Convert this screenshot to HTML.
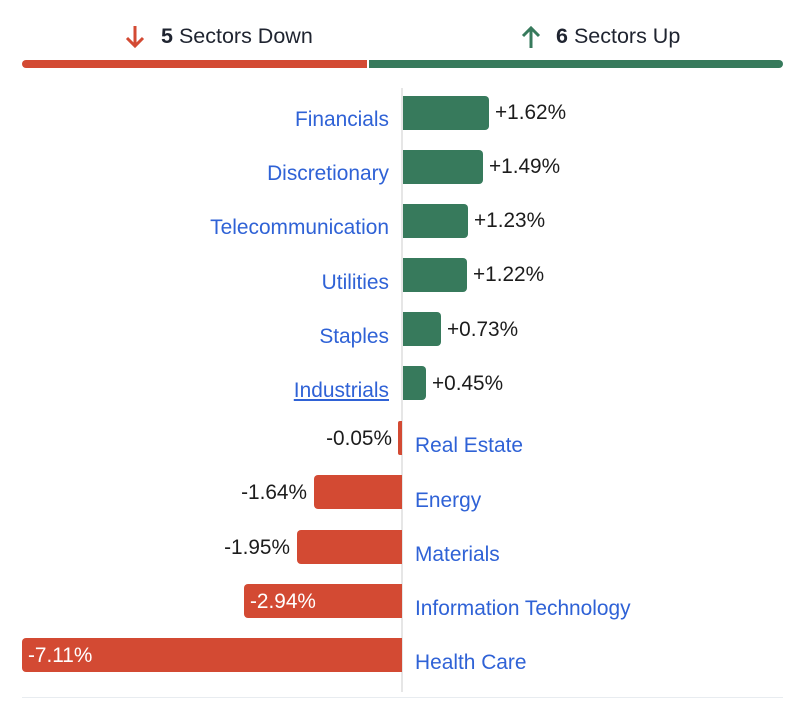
<!DOCTYPE html>
<html><head><style>
body{margin:0;width:800px;height:716px;background:#fff;font-family:"Liberation Sans",sans-serif;position:relative;overflow:hidden}
div{position:absolute}
.h{top:22px;font-size:21.5px;color:#1f2430;height:28px;line-height:28px;white-space:nowrap}
.b{height:34px;border-radius:0 4px 4px 0;background:#377a5c}
.r{height:34px;border-radius:4px 0 0 4px;background:#d34a33}
.l{font-size:20.9px;color:#2f62d6;line-height:22px;white-space:nowrap}
.ll{right:411px;text-align:right}
.rl{left:415px}
.v{font-size:20.8px;color:#1c1c1c;line-height:22px;white-space:nowrap}
</style></head><body>
<svg style="position:absolute;left:123px;top:24px" width="24" height="26"><path d="M12 2V22M4 14L12 22L20 14" stroke="#d34a33" stroke-width="3" fill="none"/></svg>
<div class="h" style="left:161px"><b>5</b> Sectors Down</div>
<svg style="position:absolute;left:519px;top:24px" width="24" height="26"><path d="M12 24V4M4 12L12 4L20 12" stroke="#377a5c" stroke-width="3" fill="none"/></svg>
<div class="h" style="left:556px"><b>6</b> Sectors Up</div>
<div style="left:22px;top:60px;width:345px;height:8px;background:#d34a33;border-radius:4px 0 0 4px"></div>
<div style="left:369px;top:60px;width:414px;height:8px;background:#377a5c;border-radius:0 4px 4px 0"></div>
<div style="left:401px;top:88px;width:2px;height:604px;background:#e6e6e6"></div>
<div style="left:22px;top:697px;width:761px;height:1px;background:#e8ecf0"></div>

<div class="b" style="left:403px;top:96px;width:86px"></div><div class="v" style="left:495px;top:102px">+1.62%</div><div class="l ll" style="top:109px">Financials</div>
<div class="b" style="left:403px;top:150px;width:80px"></div><div class="v" style="left:489px;top:156px">+1.49%</div><div class="l ll" style="top:163px">Discretionary</div>
<div class="b" style="left:403px;top:204px;width:65px"></div><div class="v" style="left:474px;top:210px">+1.23%</div><div class="l ll" style="top:217px">Telecommunication</div>
<div class="b" style="left:403px;top:258px;width:64px"></div><div class="v" style="left:473px;top:264px">+1.22%</div><div class="l ll" style="top:272px">Utilities</div>
<div class="b" style="left:403px;top:312px;width:38px"></div><div class="v" style="left:447px;top:319px">+0.73%</div><div class="l ll" style="top:326px">Staples</div>
<div class="b" style="left:403px;top:366px;width:23px"></div><div class="v" style="left:432px;top:373px">+0.45%</div><div class="l ll" style="top:380px;text-decoration:underline">Industrials</div>

<div class="r" style="left:398px;top:421px;width:4px;border-radius:2px 0 0 2px"></div><div class="v" style="right:408px;top:428px">-0.05%</div><div class="l rl" style="top:435px">Real Estate</div>
<div class="r" style="left:314px;top:475px;width:88px"></div><div class="v" style="right:493px;top:482px">-1.64%</div><div class="l rl" style="top:490px">Energy</div>
<div class="r" style="left:297px;top:530px;width:105px"></div><div class="v" style="right:510px;top:537px">-1.95%</div><div class="l rl" style="top:544px">Materials</div>
<div class="r" style="left:244px;top:584px;width:158px"></div><div class="v" style="left:250px;top:591px;color:#fff">-2.94%</div><div class="l rl" style="top:598px">Information Technology</div>
<div class="r" style="left:22px;top:638px;width:380px"></div><div class="v" style="left:28px;top:645px;color:#fff">-7.11%</div><div class="l rl" style="top:652px">Health Care</div>
</body></html>
